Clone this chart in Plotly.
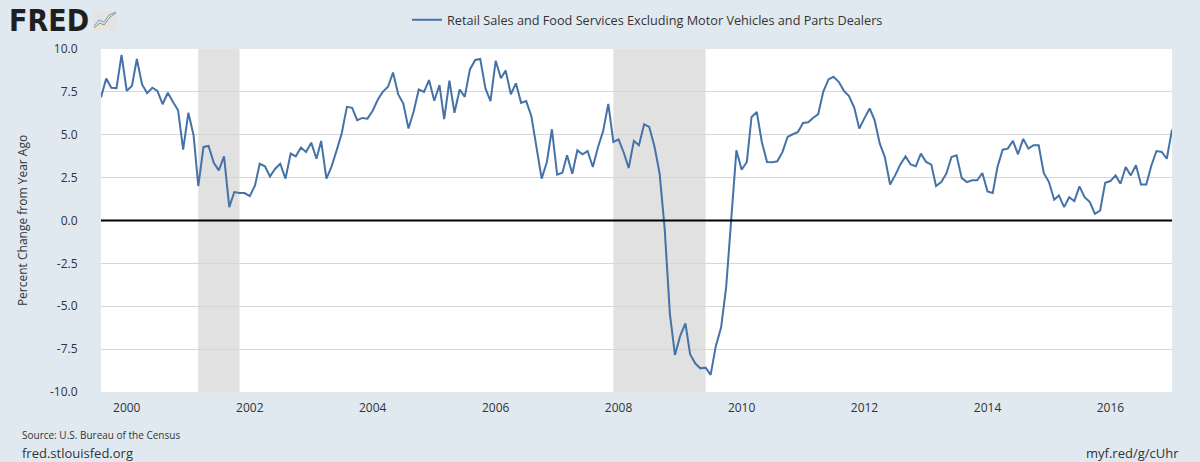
import plotly.graph_objects as go
import pandas as pd

start_month = "1999-08-01"
values = [
    # 1999 Aug-Dec
    7.18, 8.28, 7.74, 7.72, 9.65,
    # 2000
    7.56, 7.86, 9.42, 7.93, 7.43, 7.74, 7.56, 6.78, 7.45, 6.92, 6.43, 4.13,
    # 2001
    6.28, 4.97, 2.01, 4.29, 4.35, 3.37, 2.92, 3.74, 0.78, 1.66, 1.60, 1.60,
    # 2002
    1.42, 2.05, 3.31, 3.16, 2.57, 3.02, 3.31, 2.44, 3.90, 3.74, 4.25, 4.00,
    # 2003
    4.54, 3.60, 4.64, 2.44, 3.12, 4.09, 5.07, 6.63, 6.57, 5.85, 5.98, 5.94,
    # 2004
    6.40, 7.05, 7.50, 7.80, 8.63, 7.35, 6.82, 5.36, 6.37, 7.64, 7.50, 8.19,
    # 2005
    6.98, 7.89, 5.91, 8.15, 6.28, 7.64, 7.21, 8.81, 9.36, 9.42, 7.70, 6.96,
    # 2006
    9.32, 8.29, 8.75, 7.36, 8.00, 6.86, 6.96, 6.08, 4.09, 2.44, 3.41, 5.32,
    # 2007
    2.67, 2.79, 3.80, 2.73, 4.09, 3.86, 4.05, 3.12, 4.29, 5.20, 6.80, 4.58,
    # 2008
    4.73, 3.95, 3.06, 4.64, 4.39, 5.61, 5.46, 4.33, 2.73, -0.49, -5.46, -7.84,
    # 2009
    -6.73, -6.00, -7.80, -8.34, -8.62, -8.58, -9.00, -7.31, -6.24, -3.90, 0.15, 4.09,
    # 2010
    2.96, 3.41, 6.04, 6.33, 4.58, 3.41, 3.39, 3.45, 4.00, 4.87, 5.03, 5.15,
    # 2011
    5.69, 5.73, 5.98, 6.20, 7.50, 8.23, 8.38, 8.09, 7.56, 7.25, 6.59, 5.36,
    # 2012
    5.97, 6.53, 5.85, 4.48, 3.70, 2.10, 2.63, 3.27, 3.74, 3.27, 3.16, 3.90,
    # 2013
    3.41, 3.26, 2.01, 2.24, 2.73, 3.70, 3.80, 2.47, 2.24, 2.34, 2.34, 2.77,
    # 2014
    1.70, 1.60, 3.12, 4.13, 4.19, 4.64, 3.86, 4.76, 4.19, 4.39, 4.39, 2.77,
    # 2015
    2.24, 1.21, 1.46, 0.78, 1.36, 1.13, 1.99, 1.36, 1.07, 0.39, 0.58, 2.20,
    # 2016
    2.30, 2.63, 2.14, 3.12, 2.63, 3.22, 2.10, 2.10, 3.22, 4.05, 4.00, 3.60,
    # 2017
    5.30,
]
dates = pd.date_range(start_month, periods=len(values), freq="MS")

recessions = [("2001-03-01", "2001-11-01"), ("2007-12-01", "2009-06-01")]
x_tick_years = [2000, 2002, 2004, 2006, 2008, 2010, 2012, 2014, 2016]
y_ticks = [-10.0, -7.5, -5.0, -2.5, 0.0, 2.5, 5.0, 7.5, 10.0]

series_name = "Retail Sales and Food Services Excluding Motor Vehicles and Parts Dealers"
FONT = "Open Sans"
BG = "#e1e9f0"
LINE = "#4572a7"
TXT = "#333333"

W, H = 1200, 462
ML, MR, MT, MB = 101, 28, 49, 70
PW, PH = W - ML - MR, H - MT - MB


def px(xp):
    return (xp - ML) / PW


def py(yp):
    return (H - MB - yp) / PH


fig = go.Figure()
fig.add_trace(go.Scatter(
    x=dates, y=values, mode="lines", name=series_name,
    line=dict(color=LINE, width=2),
))

shapes = []
for s, e in recessions:
    shapes.append(dict(type="rect", xref="x", yref="paper", x0=s, x1=e, y0=0, y1=1,
                       fillcolor="#e1e1e1", line=dict(width=0), layer="below"))
shapes.append(dict(type="line", xref="paper", yref="y", x0=0, x1=1, y0=0, y1=0,
                   line=dict(color="#000000", width=2)))
# small FRED logo icon (decorative)
shapes.append(dict(type="rect", xref="paper", yref="paper", x0=px(93), x1=px(117),
                   y0=py(31), y1=py(11), fillcolor="#e4e4e4", line=dict(width=0)))
shapes.append(dict(type="path", xref="paper", yref="paper",
                   path=f"M {px(94)} {py(28)} L {px(100)} {py(23)} L {px(104)} {py(25)} L {px(110)} {py(17)} L {px(116)} {py(13)}",
                   line=dict(color="#7fa35a", width=1)))
shapes.append(dict(type="path", xref="paper", yref="paper",
                   path=f"M {px(94)} {py(26)} L {px(99)} {py(20)} L {px(104)} {py(22)} L {px(109)} {py(15)} L {px(116)} {py(12)}",
                   line=dict(color="#7b9cc4", width=1)))

fig.update_layout(
    width=W, height=H,
    paper_bgcolor=BG, plot_bgcolor="#ffffff",
    margin=dict(l=ML, r=MR, t=MT, b=MB, autoexpand=False),
    font=dict(family=FONT, size=12, color=TXT),
    showlegend=True,
    legend=dict(orientation="h", x=0.5 + 11 / PW, xanchor="center", y=py(20), yanchor="middle",
                font=dict(family=FONT, size=12.7, color=TXT),
                bgcolor="rgba(0,0,0,0)"),
    shapes=shapes,
    xaxis=dict(
        type="date", range=[dates[0], dates[-1]],
        tickvals=[pd.Timestamp(f"{y}-01-01") for y in x_tick_years],
        ticktext=[str(y) for y in x_tick_years],
        showgrid=False, zeroline=False, showline=False,
        ticks="outside", ticklen=5, tickcolor="rgba(0,0,0,0)",
        tickfont=dict(size=12, color=TXT),
    ),
    yaxis=dict(
        range=[-10, 10], tickvals=y_ticks,
        ticktext=[f"{v:.1f}" for v in y_ticks],
        showgrid=True, gridcolor="#d6d6d6", gridwidth=1,
        zeroline=False, showline=False,
        ticks="outside", ticklen=20, tickcolor="rgba(0,0,0,0)",
        tickfont=dict(size=12, color=TXT),
        title=dict(text="Percent Change from Year Ago", font=dict(size=12, color=TXT), standoff=19),
    ),
)

fig.add_annotation(text="<b>FRED</b>", xref="paper", yref="paper", x=px(7), y=py(20),
                   xanchor="left", yanchor="middle", showarrow=False,
                   font=dict(family="DejaVu Sans Condensed, DejaVu Sans", size=30, color="#1f1f1f"))
fig.add_annotation(text="Source: U.S. Bureau of the Census", xref="paper", yref="paper",
                   x=px(20), y=py(435), xanchor="left", yanchor="middle", showarrow=False,
                   font=dict(family=FONT, size=10, color=TXT))
fig.add_annotation(text="fred.stlouisfed.org", xref="paper", yref="paper",
                   x=px(20), y=py(453), xanchor="left", yanchor="middle", showarrow=False,
                   font=dict(family=FONT, size=13, color=TXT))
fig.add_annotation(text="myf.red/g/cUhr", xref="paper", yref="paper",
                   x=px(1181), y=py(453), xanchor="right", yanchor="middle", showarrow=False,
                   font=dict(family=FONT, size=13, color=TXT))

fig.write_html("out.html", config={"displayModeBar": False},
               post_script="document.body.style.margin='0';document.documentElement.style.overflow='hidden';")
